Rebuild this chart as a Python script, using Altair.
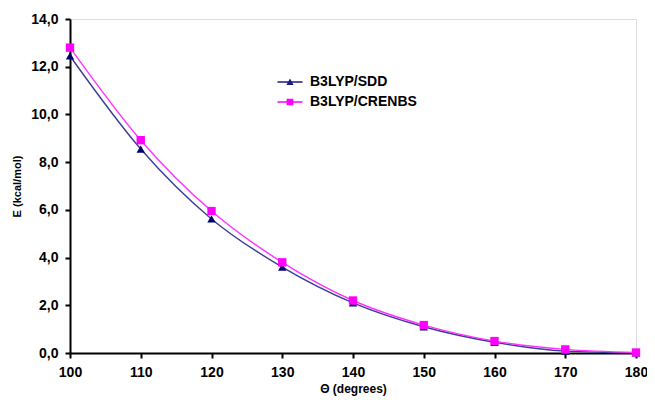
import altair as alt
import pandas as pd

theta = [100, 110, 120, 130, 140, 150, 160, 170, 180]
sdd = [12.45, 8.55, 5.62, 3.60, 2.10, 1.10, 0.45, 0.08, 0.0]
crenbs = [12.80, 8.92, 5.95, 3.80, 2.20, 1.17, 0.50, 0.15, 0.02]
series_names = ["B3LYP/SDD", "B3LYP/CRENBS"]
line_colors = ["#3c3c9a", "#ff33ff"]
marker_colors = ["#00006e", "#ff00ff"]
legend_colors = ["#1a1a80", "#ff00ff"]
marker_shapes = ["triangle-up", "square"]

rows = []
for t, a, b in zip(theta, sdd, crenbs):
    rows.append({"theta": t, "E": a, "series": series_names[0]})
    rows.append({"theta": t, "E": b, "series": series_names[1]})
df = pd.DataFrame(rows)

FONT = "Liberation Sans"

x = alt.X("theta:Q", scale=alt.Scale(domain=[100, 180], nice=False, zero=False),
          axis=alt.Axis(values=theta, title="\u0398 (degrees)", grid=False,
                        labelFlush=False,
                        domainColor="black", domainWidth=2, tickColor="black",
                        tickWidth=2, tickSize=5, labelPadding=7,
                        labelFont=FONT, labelFontSize=14, labelFontWeight="bold",
                        labelColor="black", titleFont=FONT, titleFontSize=12,
                        titleFontWeight="bold", titleColor="black", titlePadding=4))
y = alt.Y("E:Q", scale=alt.Scale(domain=[0, 14], nice=False),
          axis=alt.Axis(values=[0, 2, 4, 6, 8, 10, 12, 14], title="E (kcal/mol)",
                        labelExpr="replace(format(datum.value, '.1f'), '.', ',')",
                        grid=False, domainColor="black", domainWidth=2,
                        labelFlush=False,
                        tickColor="black", tickWidth=2, tickSize=5, labelPadding=7,
                        labelFont=FONT, labelFontSize=14, labelFontWeight="bold",
                        labelColor="black", titleFont=FONT, titleFontSize=11,
                        titleFontWeight="bold", titleColor="black", titlePadding=8))

lines = alt.Chart(df).mark_line(interpolate="monotone", strokeWidth=1.4).encode(
    x=x, y=y,
    color=alt.Color("series:N", scale=alt.Scale(domain=series_names, range=line_colors), legend=None),
)

points = alt.Chart(df).mark_point(filled=True, size=70, opacity=1).encode(
    x=x, y=y,
    color=alt.Color("series:N", scale=alt.Scale(domain=series_names, range=marker_colors), legend=None),
    shape=alt.Shape("series:N", scale=alt.Scale(domain=series_names, range=marker_shapes), legend=None),
)

legend_paths = [
    "M-1.56,-0.08H1.56V0.08H-1.56Z M-0.45,0.38L0,-0.45L0.45,0.38Z",
    "M-1.56,-0.08H1.56V0.08H-1.56Z M-0.42,-0.42H0.42V0.42H-0.42Z",
]
leg = alt.Legend(title=None, orient="none", legendX=212, legendY=55, padding=0,
                 symbolSize=256, symbolStrokeWidth=0, symbolOpacity=1,
                 labelFont=FONT, labelFontSize=14, labelFontWeight="bold",
                 labelColor="black", rowPadding=5, labelOffset=12)
legend_layer = alt.Chart(df).transform_filter("false").transform_calculate(
    lg="datum.series"
).mark_point(filled=True).encode(
    color=alt.Color("lg:N", scale=alt.Scale(domain=series_names, range=legend_colors), legend=leg),
    shape=alt.Shape("lg:N", scale=alt.Scale(domain=series_names, range=legend_paths), legend=leg),
)

chart = alt.layer(lines, points, legend_layer).resolve_scale(
    color="independent", shape="independent"
).properties(
    width=566, height=334,
    autosize=alt.AutoSizeParams(type="none"),
    padding={"left": 62, "top": 11, "right": 11, "bottom": 44},
).configure_view(stroke=None).configure(background="white")

chart.save("out.html", embed_options={"renderer": "svg", "actions": False})
